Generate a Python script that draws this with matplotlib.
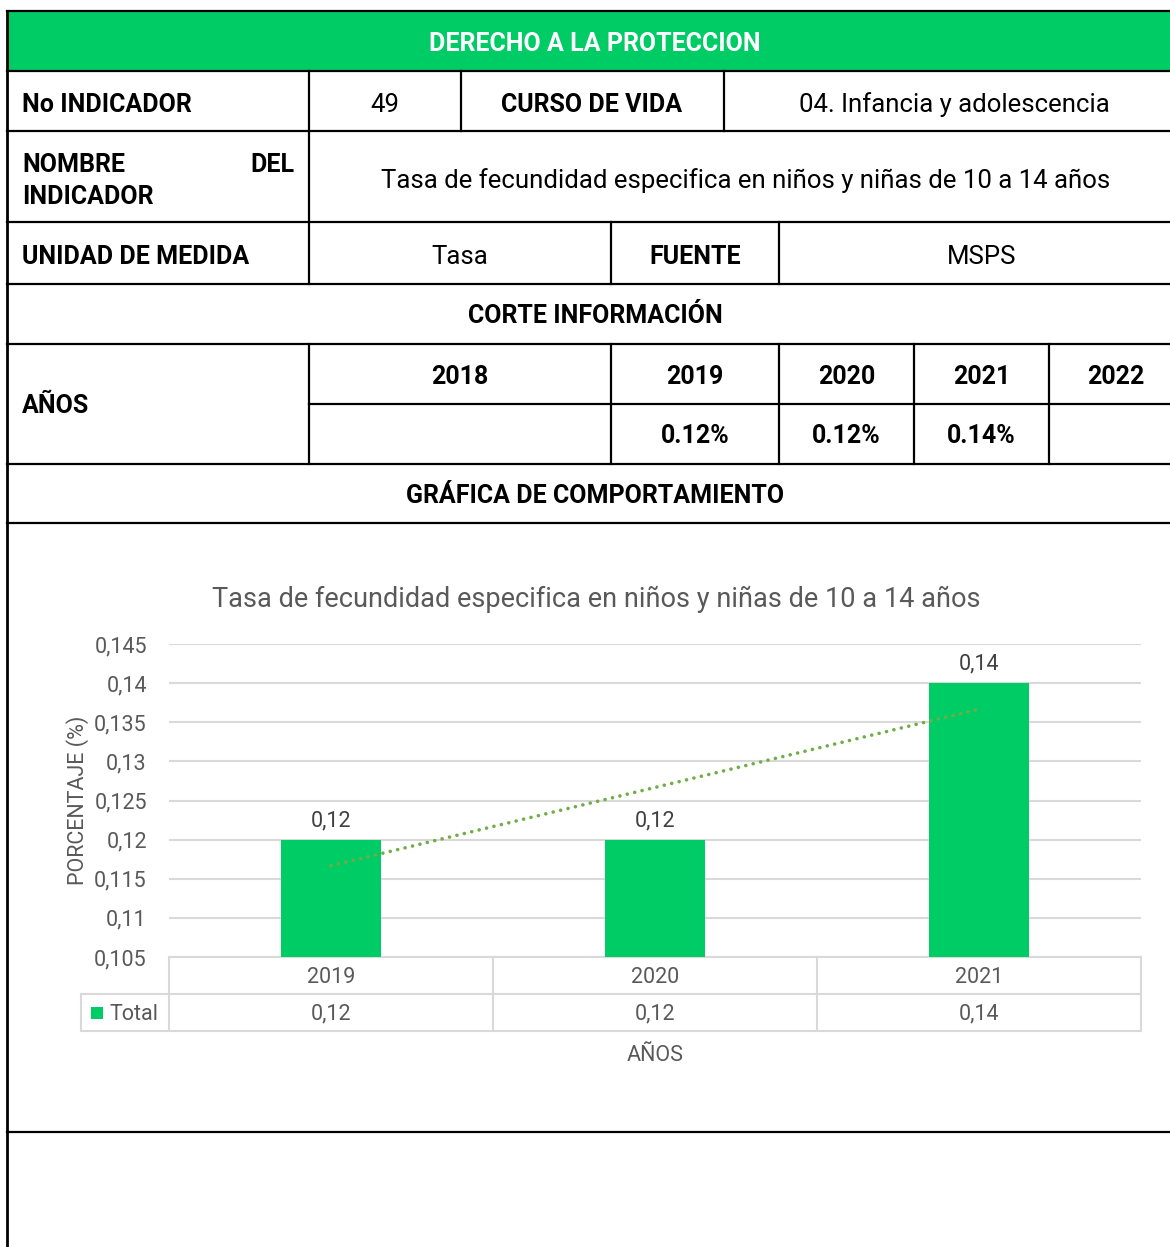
import numpy as np
import matplotlib
matplotlib.use("Agg")
import matplotlib.pyplot as plt
from matplotlib.patches import Rectangle

plt.rcParams['font.family'] = ['Roboto', 'DejaVu Sans']

# datos
years = ['2019', '2020', '2021']
values = [0.12, 0.12, 0.14]
table_years = ['2018', '2019', '2020', '2021', '2022']
table_values = ['', '0.12%', '0.12%', '0.14%', '']
y_ticks = [0.105, 0.11, 0.115, 0.12, 0.125, 0.13, 0.135, 0.14, 0.145]

W, H = 1170, 1247
fig = plt.figure(figsize=(W / 100, H / 100), dpi=100)
fig.patch.set_facecolor('white')

GREEN = '#00CC66'
GRAY = '#595959'
GRID = '#D9D9D9'
FS = 15.5  # texto de la grafica


def fx(x):
    return x / W


def fy(y):
    return 1 - y / H


def hline(y, x0, x1, lw=1.6):
    fig.add_artist(plt.Line2D([fx(x0), fx(x1)], [fy(y), fy(y)], color='black', lw=lw))


def vline(x, y0, y1, lw=1.6):
    fig.add_artist(plt.Line2D([fx(x), fx(x)], [fy(y0), fy(y1)], color='black', lw=lw))


def txt(x, y, s, bold=False, ha='center', color='black'):
    fig.text(fx(x), fy(y + 2), s, ha=ha, va='center', fontsize=18 if bold else 18.5,
             fontweight='bold' if bold else 'normal', color=color)


# encabezado verde
fig.add_artist(Rectangle((fx(7), fy(71)), fx(1170) - fx(7), fy(11) - fy(71),
                         facecolor=GREEN, edgecolor='none'))
hline(11, 7, 1170)
txt(595, 42, 'DERECHO A LA PROTECCION', bold=True, color='white')

# lineas de la tabla
for y in [71, 131, 222, 284, 344, 464, 523, 1132]:
    hline(y, 7, 1170)
hline(404, 309, 1170)
vline(7, 11, 1247, lw=2)
vline(309, 71, 284)
vline(461, 71, 131)
vline(724, 71, 131)
vline(611, 222, 284)
vline(779, 222, 284)
for x in [309, 611, 779, 914, 1049]:
    vline(x, 344, 464)

# fila 1
txt(22, 103, 'No INDICADOR', bold=True, ha='left')
txt(385, 103, '49')
txt(592, 103, 'CURSO DE VIDA', bold=True)
txt(954, 103, '04. Infancia y adolescencia')
# fila 2
txt(22, 163, 'NOMBRE', bold=True, ha='left')
txt(295, 163, 'DEL', bold=True, ha='right')
txt(22, 195, 'INDICADOR', bold=True, ha='left')
txt(746, 179, 'Tasa de fecundidad especifica en niños y niñas de 10 a 14 años')
# fila 3
txt(22, 255, 'UNIDAD DE MEDIDA', bold=True, ha='left')
txt(460, 255, 'Tasa')
txt(695, 255, 'FUENTE', bold=True)
txt(982, 255, 'MSPS')
# fila 4
txt(595, 314, 'CORTE INFORMACIÓN', bold=True)
# fila 5
txt(22, 404, 'AÑOS', bold=True, ha='left')
col_edges = [309, 611, 779, 914, 1049, 1184]
for i, (yr, val) in enumerate(zip(table_years, table_values)):
    cx = (col_edges[i] + col_edges[i + 1]) / 2
    if i == 4:
        cx = 1116
    txt(cx, 375, yr, bold=True)
    if val:
        txt(cx, 434, val, bold=True)
# fila 6
txt(595, 494, 'GRÁFICA DE COMPORTAMIENTO', bold=True)

# grafica
ax = fig.add_axes([fx(169), fy(957), fx(1141) - fx(169), fy(644) - fy(957)])
x = np.arange(len(years))
ax.bar(x, values, width=0.31, color=GREEN, zorder=3)
ax.set_xlim(-0.5, len(years) - 0.5)
ax.set_ylim(0.105, 0.145)
ax.set_yticks(y_ticks)
ax.set_yticklabels([('%g' % t).replace('.', ',') for t in y_ticks], fontsize=FS, color=GRAY)
ax.tick_params(axis='y', length=0, pad=16)
ax.set_xticks([])
ax.grid(axis='y', color=GRID, lw=1.5, zorder=0)
for s in ax.spines.values():
    s.set_visible(False)

for xi, v in zip(x, values):
    ax.text(xi, v + 0.0011, ('%g' % v).replace('.', ','), ha='center', va='bottom',
            fontsize=FS, color='#404040')

# linea de tendencia lineal
coef = np.polyfit(x, values, 1)
ax.plot(x, np.polyval(coef, x), color='#70AD47', lw=2.6, ls=(0, (0.01, 2.1)),
        dash_capstyle='round', zorder=4)

ax.set_title('Tasa de fecundidad especifica en niños y niñas de 10 a 14 años',
             fontsize=19.5, color=GRAY, pad=27, x=0.44)
ax.set_ylabel('PORCENTAJE (%)', fontsize=FS, color=GRAY, labelpad=4)

# tabla de datos de la grafica
rh = 37 / 313
leg = -(169 - 81) / 972
n = len(years)
kw = dict(transform=ax.transAxes, color=GRID, lw=1.5, clip_on=False)
ax.plot([0, 1], [0, 0], **kw)
ax.plot([leg, 1], [-rh, -rh], **kw)
ax.plot([leg, 1], [-2 * rh, -2 * rh], **kw)
ax.plot([leg, leg], [-rh, -2 * rh], **kw)
for i in range(n + 1):
    ax.plot([i / n, i / n], [0, -2 * rh], **kw)
for i, (yr, v) in enumerate(zip(years, values)):
    ax.text((i + 0.5) / n, -0.5 * rh - 0.006, yr, transform=ax.transAxes, ha='center',
            va='center', fontsize=FS, color=GRAY)
    ax.text((i + 0.5) / n, -1.5 * rh - 0.006, ('%g' % v).replace('.', ','),
            transform=ax.transAxes, ha='center', va='center', fontsize=FS, color=GRAY)
ax.add_patch(Rectangle((leg + 0.01, -1.5 * rh - 0.02), 0.013, 0.036, transform=ax.transAxes,
                       facecolor=GREEN, edgecolor='none', clip_on=False))
ax.text(leg + 0.029, -1.5 * rh - 0.006, 'Total', transform=ax.transAxes, ha='left',
        va='center', fontsize=FS, color=GRAY)
ax.text(0.5, -2.6 * rh - 0.006, 'AÑOS', transform=ax.transAxes, ha='center', va='center',
        fontsize=FS, color=GRAY)

fig.savefig('out.png', dpi=100)
